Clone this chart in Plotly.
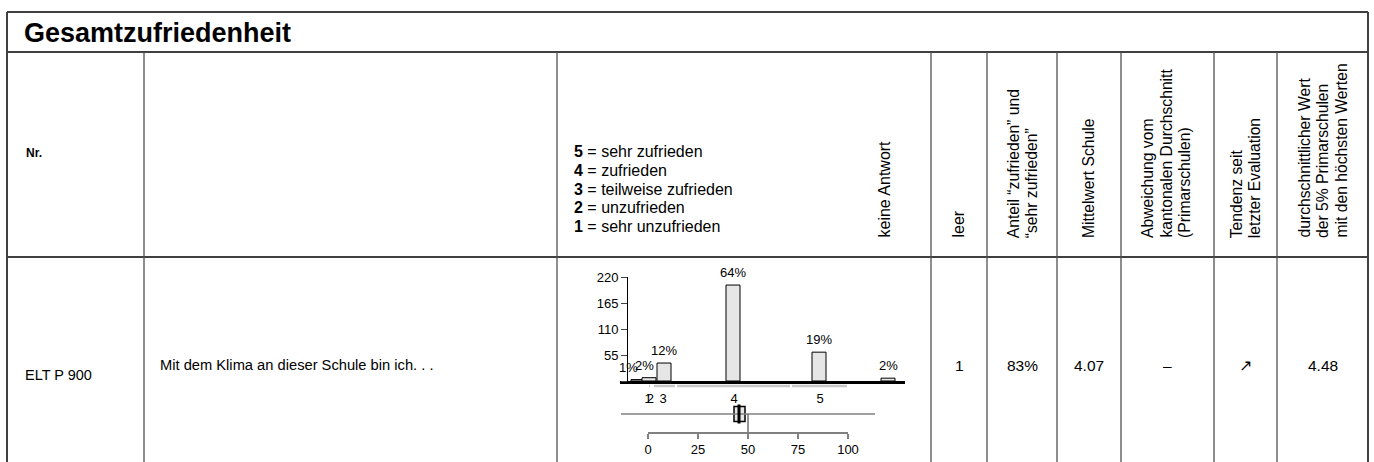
import plotly.graph_objects as go

W, H = 1374, 462

# --- data -----------------------------------------------------------------
categories = ["1", "2", "3", "4", "5", "k.A."]
counts = [3, 7, 38, 203, 61, 6]
pct_labels = ["1%", "2%", "12%", "64%", "19%", "2%"]
bar_pos = [-5, 0.5, 8, 42.5, 85.5, 120]          # position on the 0-100 scale
scale_labels = ["1", "2", "3", "4", "5"]
scale_pos = [0, 1.2, 7.5, 43, 86]
seg_start = [0.5, 3, 14.5, 72]
seg_end = [1, 13.5, 71, 99.5]

box_q1, box_med, box_q3 = 43, 45.5, 48.5
whisker_lo, whisker_hi = -13.5, 113.5
ref_value = 50

y_ticks = [0, 55, 110, 165, 220]
scale_ticks = [0, 25, 50, 75, 100]

legend_lines = [("5", "sehr zufrieden"), ("4", "zufrieden"), ("3", "teilweise zufrieden"),
                ("2", "unzufrieden"), ("1", "sehr unzufrieden")]

item_nr = "ELT P 900"
item_text = "Mit dem Klima an dieser Schule bin ich. . ."
leer = "1"
anteil = "83%"
mittelwert = "4.07"
abweichung = "–"
tendenz = "↗"
top5 = "4.48"

FONT = "Arial, Liberation Sans, Helvetica, sans-serif"


def px(x):
    return x / W


def py(y):
    return 1 - y / H


fig = go.Figure()

# histogram
fig.add_trace(go.Bar(
    x=bar_pos, y=counts, width=7,
    marker=dict(color="#e6e6e6", line=dict(color="black", width=1)),
    xaxis="x", yaxis="y", hoverinfo="skip"
))

# box row
fig.add_trace(go.Scatter(
    x=[whisker_lo, whisker_hi], y=[0, 0], mode="lines",
    line=dict(color="#808080", width=1.5), xaxis="x", yaxis="y2", hoverinfo="skip"
))
fig.add_trace(go.Scatter(
    x=[ref_value, ref_value], y=[0, -18], mode="lines",
    line=dict(color="#707070", width=1.5), xaxis="x", yaxis="y2", hoverinfo="skip"
))
fig.add_trace(go.Box(
    q1=[box_q1], median=[box_med], q3=[box_q3],
    lowerfence=[box_q1], upperfence=[box_q3], y=[0],
    orientation="h", width=15, whiskerwidth=0,
    fillcolor="#e6e6e6", line=dict(color="black", width=1.5),
    xaxis="x", yaxis="y2", hoverinfo="skip"
))
fig.add_trace(go.Scatter(
    x=[box_med, box_med], y=[-9.5, 9.5], mode="lines",
    line=dict(color="black", width=3), xaxis="x", yaxis="y2", hoverinfo="skip"
))
# carrier for the 0-100 scale axis
fig.add_trace(go.Scatter(
    x=[0], y=[0], mode="markers", marker=dict(opacity=0),
    xaxis="x2", yaxis="y3", hoverinfo="skip"
))

# --- table lines ------------------------------------------------------------
shapes = []
line_col = "#404040"
for yy in [12, 52, 257]:
    shapes.append(dict(type="line", xref="paper", yref="paper",
                       x0=px(7), x1=px(1368), y0=py(yy), y1=py(yy),
                       line=dict(color=line_col, width=2)))
for xx in [7, 1368]:
    shapes.append(dict(type="line", xref="paper", yref="paper",
                       x0=px(xx), x1=px(xx), y0=py(12), y1=py(H + 5),
                       line=dict(color=line_col, width=2)))
for xx in [144, 557, 931, 987, 1057, 1121, 1214, 1277]:
    shapes.append(dict(type="line", xref="paper", yref="paper",
                       x0=px(xx), x1=px(xx), y0=py(52), y1=py(H + 5),
                       line=dict(color="#505050", width=1.3)))

# gray category spans under the axis
for s, e in zip(seg_start, seg_end):
    shapes.append(dict(type="line", xref="x", yref="paper",
                       x0=s, x1=e, y0=py(386), y1=py(386),
                       line=dict(color="#c8c8c8", width=2.5)))

# --- text -------------------------------------------------------------------
ann = []


def text(x, y, t, size=15, xanchor="left", yanchor="middle", angle=0, bold=False):
    if bold:
        t = "<b>" + t + "</b>"
    ann.append(dict(xref="paper", yref="paper", x=px(x), y=py(y), text=t,
                    showarrow=False, xanchor=xanchor, yanchor=yanchor,
                    textangle=angle, font=dict(family=FONT, size=size, color="black")))


text(22, 33, "Gesamtzufriedenheit", size=27, bold=True)
text(24, 153, "Nr.", size=12, bold=True)

for i, (num, lab) in enumerate(legend_lines):
    text(572, 152 + i * 18.5, "<b>" + num + "</b> = " + lab, size=16)

text(884, 240, "keine Antwort", size=16, xanchor="center", yanchor="bottom", angle=-90)
text(958, 240, "leer", size=16, xanchor="center", yanchor="bottom", angle=-90)

header_cols = [
    (1023, ["Anteil “zufrieden” und", "“sehr zufrieden”"]),
    (1089, ["Mittelwert Schule"]),
    (1166, ["Abweichung vom", "kantonalen Durchschnitt", "(Primarschulen)"]),
    (1246, ["Tendenz seit", "letzter Evaluation"]),
    (1323, ["durchschnittlicher Wert", "der 5% Primarschulen", "mit den höchsten Werten"]),
]
for cx, lines in header_cols:
    n = len(lines)
    for i, ln in enumerate(lines):
        text(cx + (i - (n - 1) / 2) * 18.5, 240, ln, size=15.7,
             xanchor="center", yanchor="bottom", angle=-90)

text(23, 375, item_nr, size=14.5)
text(158, 365, item_text, size=14.7)
row_vals = [(959, leer), (1022, anteil), (1089, mittelwert), (1167, abweichung),
            (1245, tendenz), (1323, top5)]
for cx, v in row_vals:
    text(cx, 365, v, size=15.5, xanchor="center")

# bar labels
label_dx = [-10, -5, 0, 0, 0, 0]
for xv, c, t, dx in zip(bar_pos, counts, pct_labels, label_dx):
    ann.append(dict(xref="x", yref="y", x=xv, y=c, text=t, showarrow=False,
                    xanchor="center", yanchor="bottom", yshift=3, xshift=dx,
                    font=dict(family=FONT, size=13, color="black")))

fig.update_layout(
    template="none",
    width=W, height=H,
    margin=dict(l=0, r=0, t=0, b=0, pad=0, autoexpand=False),
    paper_bgcolor="white", plot_bgcolor="rgba(0,0,0,0)",
    showlegend=False,
    shapes=shapes, annotations=ann,
    font=dict(family=FONT, color="black"),
    xaxis=dict(domain=[px(620), px(905)], range=[-14, 128.5], anchor="y",
               showline=True, linecolor="black", linewidth=3,
               tickvals=scale_pos, ticktext=scale_labels, tickangle=0,
               ticks="outside", ticklen=3, tickcolor="rgba(0,0,0,0)",
               tickfont=dict(size=13), showgrid=False, zeroline=False,
               automargin=False),
    yaxis=dict(domain=[py(381), py(277)], range=[0, 220], anchor="free",
               position=px(627), showline=True, linecolor="black", linewidth=1,
               ticks="outside", ticklen=6, tickvals=y_ticks,
               ticktext=[""] + [str(v) for v in y_ticks[1:]],
               tickfont=dict(size=13), showgrid=False, zeroline=False,
               automargin=False),
    yaxis2=dict(domain=[py(432), py(400)], range=[-18, 14], anchor="x",
                visible=False),
    xaxis2=dict(domain=[px(648), px(848)], range=[0, 100], anchor="y3",
                showline=True, linecolor="#808080", linewidth=1.5,
                ticks="outside", ticklen=5, tickcolor="#808080", tickwidth=1.5,
                tickvals=scale_ticks, tickfont=dict(size=13), tickangle=0,
                showgrid=False, zeroline=False, automargin=False),
    yaxis3=dict(domain=[py(432), py(431)], range=[0, 1], anchor="x2", visible=False),
)

# drop the default page margin so the figure sits at the window origin
fig.write_html("out.html", config={"displayModeBar": False},
               post_script="document.body.style.margin='0';document.body.style.overflow='hidden';")
